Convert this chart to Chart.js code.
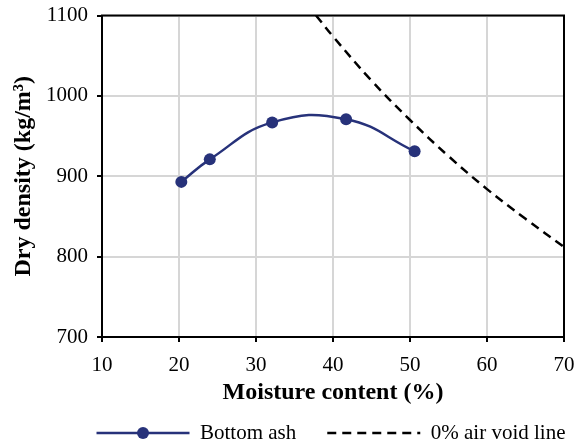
<!DOCTYPE html>
<html><head><meta charset="utf-8">
<script src="https://cdn.jsdelivr.net/npm/chart.js@4"></script>
<style>html,body{margin:0;padding:0;background:#fff}#wrap{width:580px;height:445px;position:relative}</style>
</head><body><div id="wrap"><canvas id="c"></canvas></div>
<script>
const moisture = [20.3, 24.0, 32.1, 41.7, 50.6];
const dryDensity = [893, 921, 967, 971, 931];
const voidMoisture = [37.8, 40, 45, 50, 55, 60, 65, 70];
const voidDensity = [1100, 1074, 1019, 970, 925, 884, 847, 812];
const xTicks = [10, 20, 30, 40, 50, 60, 70];
const yTicks = [700, 800, 900, 1000, 1100];
const seriesNames = ['Bottom ash', '0% air void line'];

const FONT = "'Liberation Serif', 'Times New Roman', serif";
const NAVY = '#27327a';
const LEGEND_BOX = 93;

const frame = {
  id: 'frame',
  afterUpdate(chart) {
    const lg = chart.legend;
    if (!lg || !lg.legendHitBoxes || !lg.legendHitBoxes.length) return;
    const hbs = lg.legendHitBoxes;
    const last = hbs[hbs.length - 1];
    const content = last.left + last.width - hbs[0].left;
    const a = chart.chartArea;
    const want = (a.left + a.right) / 2 - 2 - content / 2;
    const dx = want - hbs[0].left;
    lg.left += dx; lg.right += dx;
    hbs.forEach(h => { h.left += dx; });
  },
  afterDraw(chart) {
    const {ctx, chartArea: a} = chart;
    ctx.save();
    ctx.strokeStyle = '#000';
    ctx.lineWidth = 2;
    ctx.strokeRect(a.left, a.top, a.right - a.left, a.bottom - a.top);
    const lg = chart.legend;
    if (lg && lg.legendHitBoxes && lg.legendHitBoxes[0]) {
      const hb = lg.legendHitBoxes[0];
      const fs = lg.options.labels.font.size;
      ctx.beginPath();
      ctx.fillStyle = NAVY;
      ctx.arc(hb.left + LEGEND_BOX / 2, hb.top + fs / 2, 6, 0, Math.PI * 2);
      ctx.fill();
    }
    ctx.restore();
  }
};

const noLabelPadding = s => { s.paddingTop = 0; s.paddingBottom = 0; s.paddingLeft = 0; s.paddingRight = 0; };

new Chart(document.getElementById('c'), {
  type: 'scatter',
  data: {
    datasets: [
      {
        label: seriesNames[0],
        data: moisture.map((x, i) => ({x, y: dryDensity[i]})),
        showLine: true,
        borderColor: NAVY,
        backgroundColor: NAVY,
        borderWidth: 2.5,
        pointRadius: 6,
        pointHoverRadius: 6,
        pointBackgroundColor: NAVY,
        pointBorderWidth: 0,
        tension: 0.45
      },
      {
        label: seriesNames[1],
        data: voidMoisture.map((x, i) => ({x, y: voidDensity[i]})),
        showLine: true,
        borderColor: '#000',
        backgroundColor: '#000',
        borderWidth: 2.5,
        borderDash: [9, 6],
        pointRadius: 0,
        tension: 0.4
      }
    ]
  },
  options: {
    responsive: true,
    maintainAspectRatio: false,
    animation: false,
    layout: {padding: {top: 15.5, right: 16, left: 0, bottom: -8.5}},
    plugins: {
      tooltip: {enabled: false},
      legend: {
        position: 'bottom',
        fullSize: true,
        labels: {
          usePointStyle: true,
          pointStyle: 'line',
          pointStyleWidth: LEGEND_BOX,
          padding: 31,
          color: '#000',
          font: {family: FONT, size: 21},
          generateLabels: chart => {
            const items = Chart.defaults.plugins.legend.labels.generateLabels(chart);
            return items.map(it => {
              const ds = chart.data.datasets[it.datasetIndex];
              return Object.assign(it, {
                lineWidth: ds.borderWidth,
                lineDash: ds.borderDash || [],
                strokeStyle: ds.borderColor,
                pointStyle: 'line'
              });
            });
          }
        }
      }
    },
    scales: {
      x: {
        type: 'linear',
        min: 10, max: 70,
        afterBuildTicks: s => { s.ticks = xTicks.map(v => ({value: v})); },
        afterFit: s => { s.height = 54.5; noLabelPadding(s); },
        grid: {color: '#d6d6d6', lineWidth: 2, tickColor: '#000', tickLength: 5, tickWidth: 2},
        border: {color: '#000', width: 2},
        ticks: {color: '#000', font: {family: FONT, size: 21}, padding: 10.5, maxRotation: 0,
                callback: v => String(v)},
        title: {display: true, text: 'Moisture content (%)', color: '#000',
                font: {family: FONT, size: 24, weight: 'bold'}, padding: {top: 0, bottom: -15.5}}
      },
      y: {
        min: 700, max: 1100,
        afterBuildTicks: s => { s.ticks = yTicks.map(v => ({value: v})); },
        afterFit: s => { s.width = 102; noLabelPadding(s); },
        grid: {color: '#d6d6d6', lineWidth: 2, tickColor: '#000', tickLength: 5, tickWidth: 2},
        border: {color: '#000', width: 2},
        ticks: {color: '#000', font: {family: FONT, size: 21}, padding: 9, callback: v => String(v)},
        title: {display: true, text: 'Dry density (kg/m³)', color: '#000',
                font: {family: FONT, size: 24, weight: 'bold'}, padding: {top: 9, bottom: 0}}
      }
    }
  },
  plugins: [frame]
});
</script>
</body></html>
